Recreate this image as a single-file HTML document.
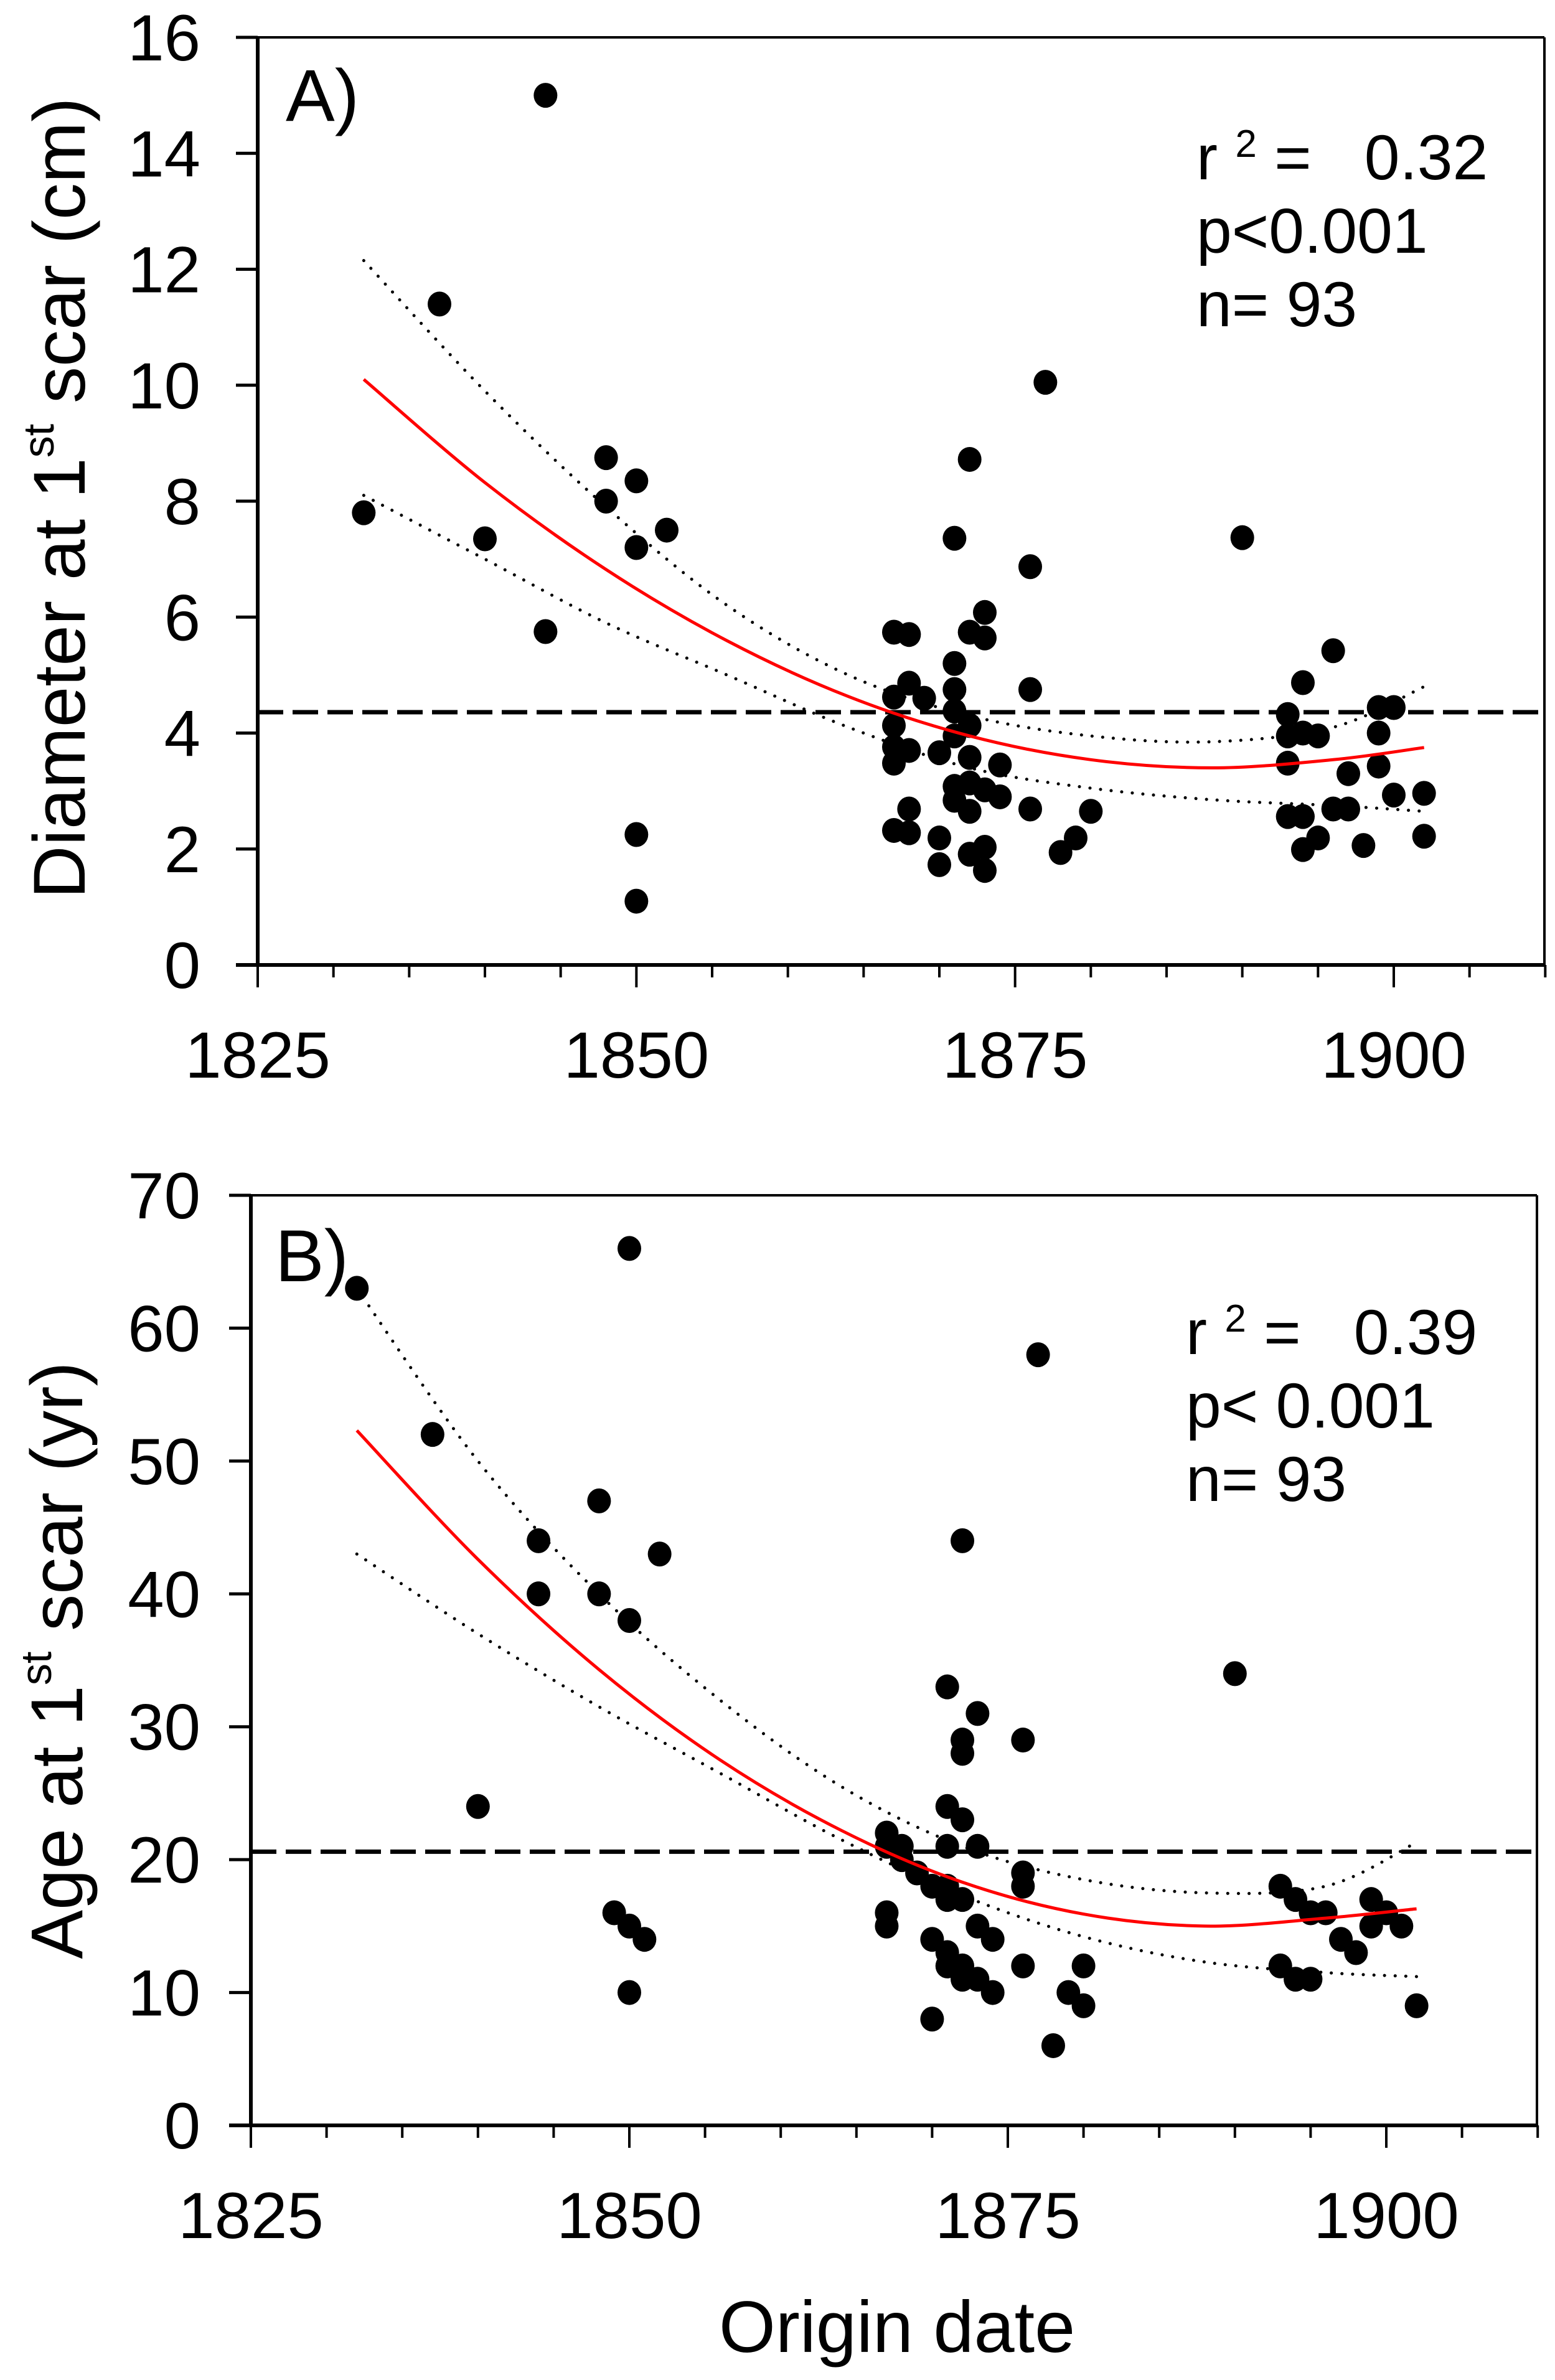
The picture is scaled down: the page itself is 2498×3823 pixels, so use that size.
<!DOCTYPE html>
<html><head><meta charset="utf-8"><style>
html,body{margin:0;padding:0;background:#fff;}
svg{display:block;}
text{font-family:"Liberation Sans",Arial,sans-serif;fill:#000;}
</style></head><body>
<svg id="fig" width="2498" height="3823" viewBox="0 0 2498 3823" xmlns="http://www.w3.org/2000/svg">
<rect width="2498" height="3823" fill="#fff"/>
<g id="panelA"></g>
<g id="panelB"></g>
<text x="1441" y="3778" font-size="117" text-anchor="middle">Origin date</text>
</svg>
<script>
// ---------- Panel A data ----------
const aX = [1832,1837,1840,1844,1844,1848,1848,1850,1850,1852,1850,1850,
 1867,1868,1867,1868,1869,1867,1867,1868,1867,1868,1867,1868,
 1870,1870,1870,
 1871,1871,1871,1871,1871,1871,1871,
 1872,1872,1872,1872,1872,1872,1872,
 1873,1873,1873,1873,1873,
 1874,1874,
 1876,1876,1876,1877,1878,1879,1880,1890,
 1893,1893,1893,1893,1894,1894,1894,1894,1895,1895,1896,1896,1897,1897,1898,
 1899,1899,1899,1900,1900,1902,1902];
const aY = [7.8,11.4,7.35,15.0,5.75,8.75,8.0,8.35,7.2,7.5,2.25,1.1,
 5.74,5.7,4.62,4.86,4.6,4.13,3.76,3.7,3.48,2.69,2.32,2.28,
 3.66,2.19,1.73,
 7.36,5.2,4.75,4.38,3.95,3.08,2.84,
 8.72,5.74,4.13,3.58,3.14,2.65,1.91,
 6.08,5.64,3.02,2.03,1.63,
 3.45,2.9,
 6.87,4.75,2.69,10.05,1.94,2.19,2.65,7.37,
 4.32,3.95,3.48,2.56,4.87,4.0,2.56,1.99,3.95,2.19,5.42,2.69,3.3,2.69,2.06,
 4.44,4.0,3.43,4.44,2.93,2.96,2.22];
const aFitX = [1832,1840,1848,1856,1864,1872,1880,1888,1896,1902];
const aFit = [10.1,8.32,6.82,5.59,4.63,3.95,3.54,3.4,3.54,3.75];
const aUpper = [12.15,9.9,7.9,6.2,5.0,4.3,3.95,3.85,4.1,4.8];
const aLower = [8.1,7.0,5.9,5.0,4.1,3.4,3.05,2.85,2.75,2.65];
const aMean = 4.36;
const aYTicks = [0,2,4,6,8,10,12,14,16];
// ---------- Panel B data ----------
const bX = [1832,1837,1840,1844,1844,1848,1848,1849,1850,1850,1850,1850,1851,1852,
 1867,1867,1867,1867,1868,1868,1869,1870,1870,1870,
 1871,1871,1871,1871,1871,1871,1871,
 1872,1872,1872,1872,1872,1872,1872,
 1873,1873,1873,1873,1874,1874,
 1876,1876,1876,1876,1877,1878,1879,1880,1880,1890,
 1893,1893,1894,1894,1895,1895,1896,1897,1898,1899,1899,1900,1901,1902];
const bY = [63,52,24,44,40,47,40,16,66,38,15,10,14,43,
 22,21,16,15,21,20,19,18,14,8,
 33,24,21,18,17,13,12,
 44,29,28,23,17,12,11,
 31,21,15,11,14,10,
 29,19,18,12,58,6,10,12,9,34,
 18,12,17,11,16,11,16,14,13,17,15,16,15,9];
const bFitX = [1832,1840,1848,1856,1864,1872,1880,1888,1896,1902];
const bFit = [52.3,42.6,34.3,27.5,22.2,18.3,15.9,15.0,15.6,16.3];
const bUpper = [63,50,40,32,25.5,21,18.5,17.5,18,21.3];
const bLower = [43,37,31.5,26.5,21.5,17.3,14.2,12.3,11.5,11.2];
const bMean = 20.6;
const bYTicks = [0,10,20,30,40,50,60,70];
const xMajor = [1825,1850,1875,1900];
const xMinorStep = 5;
const statsA = ["0.32","p<0.001","n= 93"];
const statsB = ["0.39","p< 0.001","n= 93"];

const NS = "http://www.w3.org/2000/svg";
function mk(parent, tag, attrs, text){
  const e = document.createElementNS(NS, tag);
  for (const k in attrs) e.setAttribute(k, attrs[k]);
  if (text !== undefined) e.textContent = text;
  parent.appendChild(e);
  return e;
}

function panel(g, cfg){
  const {L,R,T,B,ymax,xs,ys,fitX,fit,up,lo,mean,yTicks,label,stats,titleParts,titleX,titleY,statsX,statsY,labelX,labelY} = cfg;
  const pxPerYr = cfg.pxPerYr;
  const X = v => L + (v-1825)*pxPerYr;
  const Y = v => B - v/ymax*(B-T);
  let e;
  e = mk(g,'line',{x1:L,y1:T,x2:R,y2:T,stroke:'#000','stroke-width':4});
   
  e = mk(g,'line',{x1:R,y1:T,x2:R,y2:B,stroke:'#000','stroke-width':4});
   
  e = mk(g,'line',{x1:L,y1:T-2,x2:L,y2:B+2,stroke:'#000','stroke-width':6});
   
  e = mk(g,'line',{x1:L-35,y1:B,x2:R+2,y2:B,stroke:'#000','stroke-width':6});
   
  yTicks.forEach(t=>{
    const y = Y(t);
    const tl = mk(g,'line',{x1:L-35,y1:y,x2:L,y2:y,stroke:'#000','stroke-width':5});
     
    const tx = mk(g,'text',{x:322,y:y+37,'font-size':105,'text-anchor':'end'},String(t));
     
  });
  for (let yr=1825; yr<=1910; yr+=xMinorStep){
    const major = xMajor.includes(yr);
    const x = X(yr);
    const tl = mk(g,'line',{x1:x,y1:B,x2:x,y2:B+(major?36:20),stroke:'#000','stroke-width':4});
     
  }
  xMajor.forEach(yr=>{
    const tx = mk(g,'text',{x:X(yr),y:B+181,'font-size':105,'text-anchor':'middle'},String(yr));
     
  });
  e = mk(g,'line',{x1:L,y1:Y(mean),x2:R,y2:Y(mean),stroke:'#000','stroke-width':7,'stroke-dasharray':'41 15'});
   
  const smooth = arr => {
    const p = fitX.map((v,i)=>[X(v),Y(arr[i])]);
    let d = 'M'+p[0][0]+' '+p[0][1];
    for (let i=0;i<p.length-1;i++){
      const p0=p[Math.max(0,i-1)],p1=p[i],p2=p[i+1],p3=p[Math.min(p.length-1,i+2)];
      const c1=[p1[0]+(p2[0]-p0[0])/6,p1[1]+(p2[1]-p0[1])/6];
      const c2=[p2[0]-(p3[0]-p1[0])/6,p2[1]-(p3[1]-p1[1])/6];
      d+=` C${c1[0].toFixed(1)} ${c1[1].toFixed(1)} ${c2[0].toFixed(1)} ${c2[1].toFixed(1)} ${p2[0].toFixed(1)} ${p2[1].toFixed(1)}`;
    }
    return d;
  };
  e = mk(g,'path',{d:smooth(up),fill:'none',stroke:'#000','stroke-width':5,'stroke-dasharray':'0.1 17','stroke-linecap':'round'});
   
  e = mk(g,'path',{d:smooth(lo),fill:'none',stroke:'#000','stroke-width':5,'stroke-dasharray':'0.1 17','stroke-linecap':'round'});
   
  xs.forEach((v,i)=>{
    const c = mk(g,'ellipse',{cx:X(v),cy:Y(ys[i]),rx:19,ry:20,fill:'#000'});
     
  });
  e = mk(g,'path',{d:smooth(fit),fill:'none',stroke:'#ff0000','stroke-width':5});
   
  e = mk(g,'text',{x:labelX,y:labelY,'font-size':118},label);
   
  const st = mk(g,'text',{x:statsX,y:statsY,'font-size':102});
   
  mk(st,'tspan',{},'r\u00a0');
  mk(st,'tspan',{'font-size':62,dy:-36},'2');
  mk(st,'tspan',{dy:36},'\u00a0=\u00a0\u00a0\u00a0'+stats[0]);
  e = mk(g,'text',{x:statsX,y:statsY+118,'font-size':102},stats[1]);
   
  e = mk(g,'text',{x:statsX,y:statsY+236,'font-size':102},stats[2]);
   
  const yt = mk(g,'text',{x:0,y:0,'font-size':118,'text-anchor':'middle',transform:`translate(${titleX},${titleY}) rotate(-90)`});
   
  mk(yt,'tspan',{},titleParts[0]);
  mk(yt,'tspan',{'font-size':70,dy:-50},'st');
  mk(yt,'tspan',{dy:50},titleParts[1]);
}

panel(document.getElementById('panelA'),{
  L:414,R:2481,T:60,B:1550,ymax:16,pxPerYr:(2239-414)/75,
  xs:aX,ys:aY,fitX:aFitX,fit:aFit,up:aUpper,lo:aLower,mean:aMean,yTicks:aYTicks,
  label:'A)',labelX:459,labelY:194,stats:statsA,statsX:1922,statsY:288,
  titleParts:['Diameter at 1',' scar (cm)'],titleX:136,titleY:800
});
panel(document.getElementById('panelB'),{
  L:403,R:2469,T:1920,B:3414,ymax:70,pxPerYr:(2227-403)/75,
  xs:bX,ys:bY,fitX:bFitX,fit:bFit,up:bUpper,lo:bLower,mean:bMean,yTicks:bYTicks,
  label:'B)',labelX:442,labelY:2058,stats:statsB,statsX:1905,statsY:2175,
  titleParts:['Age at 1',' scar (yr)'],titleX:132,titleY:2667
});
</script>
</body></html>
